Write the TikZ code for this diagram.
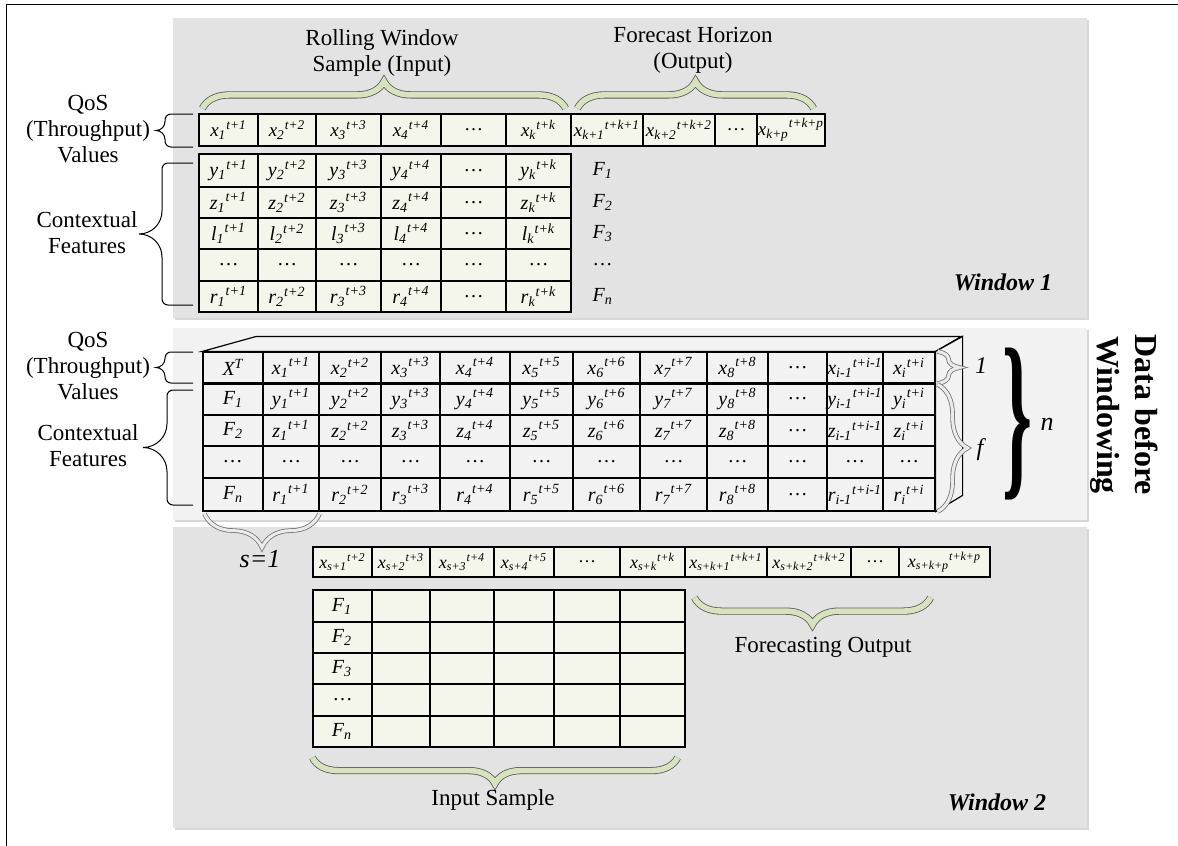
\documentclass[tikz,border=0pt]{standalone}
\usepackage{fontspec}
\usepackage{graphicx}
\setmainfont{Liberation Serif}
\usetikzlibrary{positioning,calc,decorations.pathreplacing,shadows}
\definecolor{panelgray}{RGB}{227,227,227}
\definecolor{panellight}{RGB}{242,242,242}
\definecolor{cellcream}{RGB}{244,246,236}
\definecolor{bracegreen}{RGB}{214,227,188}
\tikzset{
    panel/.style={fill=panelgray,drop shadow={shadow xshift=1.2pt,shadow yshift=-1.2pt,fill=black!30}},
    cell/.style={draw,line width=0.6pt,fill=cellcream,inner sep=0pt,font=\fontsize{10}{12}\selectfont},
    lbl/.style={align=center,font=\fontsize{11.5}{13}\selectfont},
    greenbrace/.style={decorate,decoration={brace,amplitude=#1},draw=black!65,double=bracegreen,double distance=2.8pt},
    graybrace/.style={decorate,decoration={brace,amplitude=#1},draw=black!55,double=black!8,double distance=1.5pt}
}
% value with subscript and superscript, dots if empty
\newcommand{\cv}[3]{\edef\cva{#1}\edef\cvb{#2}%
    \ifx\cva\empty\ldots\else\ifx\cvb\empty\ldots\else\textit{#1\textsubscript{#2}\textsuperscript{#3}}\fi\fi}
% left curly brace: arm x, body x, tip x, top y, bottom y
\newcommand{\curl}[5]{%
    \draw[line width=0.5pt] (#1,#4) -- ({#2+6},#4) to[out=180,in=90] (#2,{#4+6})
        -- (#2,{(#4+#5)/2-(#2-#3)}) to[out=-90,in=0] (#3,{(#4+#5)/2})
        to[out=0,in=90] (#2,{(#4+#5)/2+(#2-#3)}) -- (#2,{#5-6})
        to[out=-90,in=180] ({#2+6},#5) -- (#1,#5);}

\begin{document}
\begin{tikzpicture}[x=0.5pt,y=-0.5pt]
    \useasboundingbox (0,0) rectangle (1178,846);
    \draw[line width=0.8pt] (1178,4.5) -- (6.5,4.5) -- (6.5,846);

    % panels
    \path[panel] (173,18) rectangle (1087,318);
    \path[panel,fill=panellight] (173,328) rectangle (1087,520);
    \path[panel] (173,527) rectangle (1087,828);

    % Window 1
    \foreach \lx/\rx/\s/\p [count=\i] in {199/258/1/t+1,258/316/2/t+2,316/381/3/t+3,381/441/4/t+4,441/506//,
            506/571/k/t+k,571/643/k+1/t+k+1,643/715/k+2/t+k+2,715/757//,757/825/k+p/t+k+p}
        \node[cell,font=\fontsize{9.5}{11}\selectfont,minimum width={(\rx-\lx)*0.5pt},minimum height=16pt] (wq\i)
            at ({(\lx+\rx)/2},130) {\cv{x}{\s}{\p}};
    \foreach \ya/\yb/\v/\f [count=\j] in {154/187/y/1,187/218/z/2,218/249/l/3,249/281//,281/312/r/n} {
        \foreach \lx/\rx/\s/\p [count=\i] in {199/258/1/t+1,258/316/2/t+2,316/381/3/t+3,381/441/4/t+4,441/506//,506/571/k/t+k}
            \node[cell,minimum width={(\rx-\lx)*0.5pt},minimum height={(\yb-\ya)*0.5pt}] (wf-\j-\i)
                at ({(\lx+\rx)/2},{(\ya+\yb)/2}) {\cv{\v}{\s}{\p}};
        \node[right=7pt of wf-\j-6,font=\fontsize{10}{12}\selectfont] (wF\j) {\cv{F}{\f}{}};
    }
    \draw[greenbrace=13.5pt] ([xshift=2pt,yshift=2.5pt]wq1.north west) -- ([xshift=-3pt,yshift=2.5pt]wq6.north east);
    \draw[greenbrace=13.5pt] ([xshift=3.5pt,yshift=2.5pt]wq7.north west) -- ([xshift=-6pt,yshift=2.5pt]wq10.north east);
    \node[lbl] (rolling) at (382,53) {Rolling Window\\Sample (Input)};
    \node[lbl] (horizon) at (693,50) {Forecast Horizon\\(Output)};
    \node[lbl] (qos1) at (88,129) {QoS\\(Throughput)\\Values};
    \node[lbl] (ctx1) at (87,233) {Contextual\\Features};
    \curl{193}{165}{156}{114}{147}
    \curl{193}{162}{139}{163}{305}
    \node[font=\fontsize{12}{14}\selectfont\bfseries\itshape] (win1) at (1003,282) {Window 1};

    % Data before windowing
    \foreach \ya/\yb/\v/\h [count=\j] in {352/383/x/{X\textsuperscript{T}},383/415/y/{F\textsubscript{1}},
            415/446/z/{F\textsubscript{2}},446/478//\ldots,478/511/r/{F\textsubscript{n}}} {
        \node[cell,fill=panellight,minimum width=30pt,minimum height={(\yb-\ya)*0.5pt}] (mt-\j-1)
            at (233,{(\ya+\yb)/2}) {\textit{\h}};
        \foreach \lx/\rx/\s/\p [count=\i from 2] in {263/319/1/t+1,319/381/2/t+2,381/440/3/t+3,440/510/4/t+4,
                510/573/5/t+5,573/640/6/t+6,640/707/7/t+7,707/768/8/t+8,768/827//,827/883/i-1/t+i-1,883/935/i/t+i}
            \node[cell,fill=panellight,minimum width={(\rx-\lx)*0.5pt},minimum height={(\yb-\ya)*0.5pt}] (mt-\j-\i)
                at ({(\lx+\rx)/2},{(\ya+\yb)/2}) {\cv{\v}{\s}{\p}};
    }
    \draw[line width=1.1pt] (mt-1-1.south west) -- (mt-1-12.south east);
    \draw[line width=0.6pt,fill=panellight] (mt-1-1.north west) -- ++(54,-15) -- ++(705,0) -- (mt-1-12.north east) -- cycle;
    \draw[line width=0.6pt,fill=panellight] (mt-1-12.north east) -- ++(27,-15) -- ++(0,159) -- (mt-5-12.south east) -- cycle;
    \draw[graybrace=11pt] ([xshift=1pt]mt-1-12.north east) -- ([xshift=1pt]mt-1-12.south east);
    \draw[graybrace=15pt] ([xshift=1pt,yshift=-1pt]mt-2-12.north east) -- ([xshift=1pt]mt-5-12.south east);
    \node[font=\fontsize{12}{14}\selectfont\itshape] (one) at (981,366) {1};
    \node[font=\fontsize{12}{14}\selectfont\itshape] (eff) at (980,450) {f};
    \node[inner sep=0pt] (nbr) at (1017,424) {\resizebox*{15pt}{76pt}{\bfseries\}}};
    \node[font=\fontsize{13}{15}\selectfont\itshape] (enn) at (1047,424) {n};
    \node[font=\fontsize{16}{19}\selectfont\bfseries,align=center,rotate=-90] (dbw) at (1124,415) {Data before\\Windowing};
    \node[lbl] (qos2) at (88,366) {QoS\\(Throughput)\\Values};
    \node[lbl] (ctx2) at (88,446) {Contextual\\Features};
    \curl{193}{165}{156}{352}{383}
    \curl{193}{167}{143}{390}{505}
    \draw[graybrace=17pt] ([yshift=-1pt]mt-5-2.south east) -- ([xshift=1pt,yshift=-1pt]mt-5-1.south west);
    \node[font=\fontsize{13}{15}\selectfont\itshape] (step1) at (260,559) {s=1};

    % Window 2
    \foreach \lx/\rx/\s/\p [count=\i] in {313/372/s+1/t+2,372/430/s+2/t+3,430/494/s+3/t+4,494/554/s+4/t+5,554/620//,
            620/685/s+k/t+k,685/767/s+k+1/t+k+1,767/851/s+k+2/t+k+2,851/899//,899/990/s+k+p/t+k+p}
        \node[cell,font=\fontsize{9}{11}\selectfont,minimum width={(\rx-\lx)*0.5pt},minimum height=15pt] (bq\i)
            at ({(\lx+\rx)/2},562) {\cv{x}{\s}{\p}};
    \foreach \ya/\yb/\f [count=\j] in {590/622/1,622/653/2,653/684/3,684/716/,716/747/n}
        \foreach \lx/\rx [count=\i] in {313/372,372/430,430/494,494/554,554/620,620/685}
            \node[cell,minimum width={(\rx-\lx)*0.5pt},minimum height={(\yb-\ya)*0.5pt}] (bt-\j-\i)
                at ({(\lx+\rx)/2},{(\ya+\yb)/2}) {\ifnum\i=1 \cv{F}{\f}{}\fi};
    \draw[greenbrace=13pt] ([xshift=-4pt,yshift=-5pt]bt-5-6.south east) -- ([yshift=-5pt]bt-5-1.south west);
    \draw[greenbrace=13.5pt] ([xshift=-30pt,yshift=-10pt]bq10.south east) -- ([xshift=5pt,yshift=-10pt]bq7.south west);
    \node[lbl] (insample) at (493,800) {Input Sample};
    \node[lbl] (fcout) at (823,647) {Forecasting Output};
    \node[font=\fontsize{12}{14}\selectfont\bfseries\itshape] (win2) at (997,802) {Window 2};
\end{tikzpicture}
\end{document}
